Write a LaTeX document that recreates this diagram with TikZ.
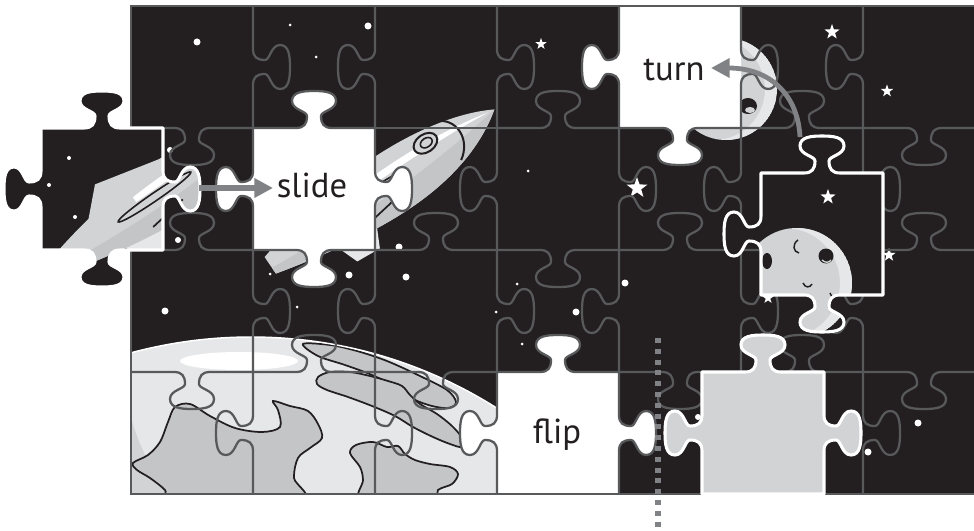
\documentclass[tikz,border=0pt]{standalone}
\usepackage{fontspec}
\setmainfont{PT Sans}
\usetikzlibrary{arrows.meta}

\definecolor{sky}{HTML}{231F20}
\definecolor{gridc}{HTML}{58595B}
\definecolor{lgray}{HTML}{D1D3D4}
\definecolor{vlgray}{HTML}{E6E7E8}
\definecolor{mgray}{HTML}{C3C5C7}
\definecolor{agray}{HTML}{808285}
\definecolor{ink}{HTML}{231F20}

% Jigsaw edge profiles for a 122 px cell (y grows downwards)
\newcommand\tabtop{-- (43,0) .. controls (51,0) and (54,-4) .. (54,-12) .. controls (54,-17) and (39,-18) .. (39,-27) .. controls (39,-36) and (50,-37) .. (61,-37) .. controls (72,-37) and (83,-36) .. (83,-27) .. controls (83,-18) and (68,-17) .. (68,-12) .. controls (68,-4) and (71,0) .. (79,0) -- (122,0)}
\newcommand\tabright{-- (122,43) .. controls (122,51) and (126,54) .. (134,54) .. controls (139,54) and (140,39) .. (149,39) .. controls (158,39) and (159,50) .. (159,61) .. controls (159,72) and (158,83) .. (149,83) .. controls (140,83) and (139,68) .. (134,68) .. controls (126,68) and (122,71) .. (122,79) -- (122,122)}
\newcommand\tabbottom{-- (79,122) .. controls (71,122) and (68,126) .. (68,134) .. controls (68,139) and (83,140) .. (83,149) .. controls (83,158) and (72,159) .. (61,159) .. controls (50,159) and (39,158) .. (39,149) .. controls (39,140) and (54,139) .. (54,134) .. controls (54,126) and (51,122) .. (43,122) -- (0,122)}
\newcommand\tableft{-- (0,79) .. controls (0,71) and (-4,68) .. (-12,68) .. controls (-17,68) and (-18,83) .. (-27,83) .. controls (-36,83) and (-37,72) .. (-37,61) .. controls (-37,50) and (-36,39) .. (-27,39) .. controls (-18,39) and (-17,54) .. (-12,54) .. controls (-4,54) and (0,51) .. (0,43) -- (0,0)}
\newcommand\tabvert{-- (0,43) .. controls (0,51) and (4,54) .. (12,54) .. controls (17,54) and (18,39) .. (27,39) .. controls (36,39) and (37,50) .. (37,61) .. controls (37,72) and (36,83) .. (27,83) .. controls (18,83) and (17,68) .. (12,68) .. controls (4,68) and (0,71) .. (0,79) -- (0,122)}

% piece outlines
\newcommand\slideshape{(0,0) \tabtop \tabright \tabbottom \tableft -- cycle}
\newcommand\turnshape{(0,0) -- (122,0) -- (122,122) \tabbottom \tableft -- cycle}
\newcommand\flipshape{(0,0) \tabtop \tabright -- (0,122) \tableft -- cycle}
\newcommand\moonshape{(0,0) \tabtop -- (122,122) \tabbottom \tableft -- cycle}

% grid edges: horizontal (knob up = 1, down = -1), vertical (right = 1, left = -1)
\newcommand\hedge[3]{\draw[grid,shift={(#1,#2)},yscale=#3] (0,0) \tabtop;}
\newcommand\vedge[3]{\draw[grid,shift={(#1,#2)},xscale=#3] (0,0) \tabvert;}
\newcommand\hflat[2]{\draw[grid] (#1,#2) -- ++(122,0);}

\newcommand\wstar[3]{\fill[white,shift={(#1,#2)},scale=#3] (-90:1) -- (-54:0.4) -- (-18:1) -- (18:0.4) -- (54:1) -- (90:0.4) -- (126:1) -- (162:0.4) -- (198:1) -- (234:0.4) -- cycle;}

\newcommand\rocketscene{%
 \begin{scope}[shift={(268,262)},rotate=34.4]
  \fill[lgray] (44,-10) -- (76,-42) -- (146,-26) -- (128,-6) -- cycle;
  \fill[vlgray] (60,12) -- (74,50) -- (100,52) -- (114,24) -- cycle;
  \fill[lgray] (0,-6) .. controls (30,-14) and (70,-22) .. (120,-26) .. controls (175,-29) and (235,-20) .. (273,2) .. controls (245,22) and (205,36) .. (150,36) .. controls (100,36) and (40,24) .. (0,14) -- cycle;
  \fill[mgray] (0,7) .. controls (60,12) and (150,20) .. (273,2) .. controls (245,22) and (205,36) .. (150,36) .. controls (100,36) and (40,24) .. (0,14) -- cycle;
  \fill[white] (100,-10) .. controls (160,-14) and (220,-10) .. (266,1) .. controls (220,-4) and (160,-5) .. (100,-4) -- cycle;
  \filldraw[fill=lgray, draw=sky, line width=1.2pt] (118,2) ellipse[x radius=44, y radius=4];
  \filldraw[fill=lgray, draw=sky, line width=1.5pt] (197,-9) ellipse[x radius=13, y radius=9];
  \draw[sky, line width=1.2pt] (198,-9) ellipse[x radius=6.5, y radius=4.5];
  \draw[sky, line width=1.5pt] (222,-19) .. controls (237,-9) and (235,14) .. (217,25);
  \draw[sky, line width=1.3pt] (100,26) -- (140,20);
 \end{scope}
 \fill[white] (281,158) circle[radius=2] (261,185) circle[radius=2] (287,217) circle[radius=2];
}

\newcommand\earthscene{%
 \begin{scope}
  \clip (251,797) circle[radius=460];
  \fill[vlgray] (251,797) circle[radius=460];
  \fill[lgray] (131,418) .. controls (141,452) and (155,478) .. (175,495) -- (131,495) -- cycle;
  \fill[white] (239,361) ellipse[x radius=59, y radius=9];
  \filldraw[continent] plot[smooth cycle, tension=0.55] coordinates {(133,463) (148,455) (160,442) (168,422) (175,407) (190,404) (210,416) (235,428) (262,432) (280,427) (278,410) (273,401) (290,406) (308,411) (318,424) (322,438) (310,448) (298,458) (294,478) (300,502) (175,504) (165,490) (150,478) (137,470)};
  \filldraw[continent] plot[smooth cycle, tension=0.55] coordinates {(350,453) (356,445) (373,442) (387,447) (398,446) (405,454) (415,460) (430,464) (450,467) (458,474) (452,484) (438,490) (432,502) (362,502) (363,480) (360,467)};
  \filldraw[continent] plot[smooth cycle, tension=0.55] coordinates {(303,344) (330,345) (357,351) (387,361) (420,376) (447,390) (456,402) (449,408) (432,406) (413,399) (398,388) (372,375) (345,365) (318,356)};
  \filldraw[continent] plot[smooth cycle, tension=0.55] coordinates {(318,377) (330,372) (350,372) (370,376) (388,381) (402,386) (410,395) (420,404) (437,414) (452,426) (462,438) (462,447) (450,444) (433,437) (413,427) (395,416) (372,406) (348,397) (327,390) (317,384)};
 \end{scope}
 \draw[white, line width=1.1pt] (251,797) circle[radius=460];
}

\tikzset{
 grid/.style={draw=gridc, line width=1.7pt, line join=round},
 continent/.style={fill=mgray, draw=ink, line width=1.3pt},
 pieceborder/.style={draw=white, line width=2.3pt, line join=round},
 arr/.style={draw=agray, line width=4pt, -{Triangle[length=14pt,width=14pt]}},
 dotline/.style={draw=agray, line width=3.8pt, dash pattern=on 3.8pt off 4.3pt},
 lbl/.style={text=ink, font=\fontsize{26}{30}\selectfont, inner sep=0pt, anchor=base},
}

\begin{document}
\begin{tikzpicture}[x=0.75pt,y=-0.75pt]
\useasboundingbox (0,0) rectangle (974,531);
\clip (0,0) rectangle (974,531);
\fill[white] (0,0) rectangle (974,531);

\begin{scope}
 \clip (131,6) rectangle (974,494);
 \fill[sky] (131,6) rectangle (974,494);
 % small dots
 \foreach \px/\py/\r in {197/42/3.5, 290/25/1.5, 368/26/3.5, 316/57/1.5, 528/171/1.5, 399/247/3.5, 406/277/3.5, 517/284/1.5, 496/312/1.5, 576/312/3.5, 522/344/1.5, 625/283/3.5, 165/311/3.5, 270/274/1.5, 297/307/1.5, 349/275/3.5, 918/423/3.5, 868/452/3.5, 698/417/3, 170/150/3, 178/240/3}
   {\fill[white] (\px,\py) circle[radius=\r];}
 % stars
 \wstar{541}{44}{6}
 \wstar{832}{32}{8}
 \wstar{887}{91}{6.5}
 \wstar{637}{188}{11}
 \wstar{889}{255}{7}
 \wstar{768}{298}{6}
 % earth
 \earthscene
 % moon
 \fill[lgray] (726,89) circle[radius=51];
 \begin{scope}
  \clip (726,89) circle[radius=51];
  \fill[vlgray, even odd rule] (726,89) circle[radius=51] (714,89) circle[radius=51];
 \end{scope}
 \fill[sky] (748,106) ellipse[x radius=9, y radius=8];
 \fill[lgray] (750,110) ellipse[x radius=5, y radius=3];
 % rocket
 \rocketscene
 % empty slots
 \fill[white, shift={(253,128)}] \slideshape;
 \fill[white, shift={(619,6)}] \turnshape;
 \fill[white, shift={(497,372)}] \flipshape;
 % grid
 \hedge{131}{128}{-1} \hedge{253}{128}{1} \hflat{375}{128} \hedge{497}{128}{1}
 \hedge{619}{128}{-1} \hedge{741}{128}{1} \hedge{863}{128}{-1}
 \hedge{131}{250}{1} \hedge{253}{250}{-1} \hedge{375}{250}{1} \hedge{497}{250}{-1}
 \hedge{619}{250}{1} \hedge{741}{250}{-1} \hedge{863}{250}{1}
 \hedge{131}{372}{-1} \hedge{253}{372}{1} \hedge{375}{372}{-1} \hedge{497}{372}{1}
 \hedge{619}{372}{-1} \hedge{741}{372}{1} \hedge{863}{372}{-1}
 \foreach \vy/\s in {6/1, 128/-1, 250/1, 372/-1} {
   \vedge{253}{\vy}{\s}
   \vedge{497}{\vy}{\s}
   \vedge{741}{\vy}{\s}
 }
 \foreach \vy/\s in {6/-1, 128/1, 250/-1, 372/1} {
   \vedge{375}{\vy}{\s}
   \vedge{619}{\vy}{\s}
   \vedge{863}{\vy}{\s}
 }
\end{scope}
\draw[gridc, line width=2.2pt] (131,6) rectangle (990,494);

% flip axis
\coordinate (axtop) at (658,338);
\coordinate (axbot) at (658,531);
\draw[dotline] (axtop) -- (axbot);

% piece to slide
\begin{scope}[shift={(41,128)}]
 \fill[sky] \slideshape;
 \begin{scope}
  \clip \slideshape;
  \begin{scope}[shift={(-253,-128)}]
   \rocketscene
  \end{scope}
 \end{scope}
 \draw[pieceborder] \slideshape;
\end{scope}

% piece to turn
\begin{scope}[shift={(761,173)}]
 \fill[sky] \moonshape;
 \begin{scope}
  \clip \moonshape;
  \fill[lgray] (36,110) circle[radius=55];
  \begin{scope}
   \clip (36,110) circle[radius=55];
   \fill[vlgray, even odd rule] (36,110) circle[radius=55] (24,110) circle[radius=55];
  \end{scope}
  \fill[sky] (65,83) circle[radius=7.5];
  \draw[lgray, line width=1pt] (61,87) .. controls (64,90) and (68,90) .. (70,87);
  \fill[sky] (6,88) ellipse[x radius=5, y radius=8];
  \draw[sky, line width=1.1pt] (37,67) .. controls (31,71) and (32,79) .. (38,80);
  \draw[sky, line width=1.1pt] (42,110) .. controls (44,115) and (49,115) .. (51,111);
  \draw[sky, line width=1.1pt] (69,120) .. controls (73,125) and (72,132) .. (67,135);
  \wstar{67}{24}{8}
 \end{scope}
 \draw[pieceborder] \moonshape;
\end{scope}

% piece to flip (seen from the back)
\filldraw[fill=lgray, pieceborder, shift={(702,372)}] \flipshape;

% labels
\node[lbl] (slidelbl) at (312,197) {slide};
\node[lbl] (turnlbl) at (674,81) {turn};
\node[lbl] (fliplbl) at (557,443) {flip};

% arrows
\coordinate (slidefrom) at (199,188);
\coordinate (slideto) at (273,188);
\draw[arr] (slidefrom) -- (slideto);
\coordinate (turnfrom) at (800,137);
\coordinate (turnto) at (711,68);
\draw[arr, line width=3.6pt] (turnfrom) .. controls (798,95) and (770,68) .. (turnto);
\end{tikzpicture}
\end{document}
